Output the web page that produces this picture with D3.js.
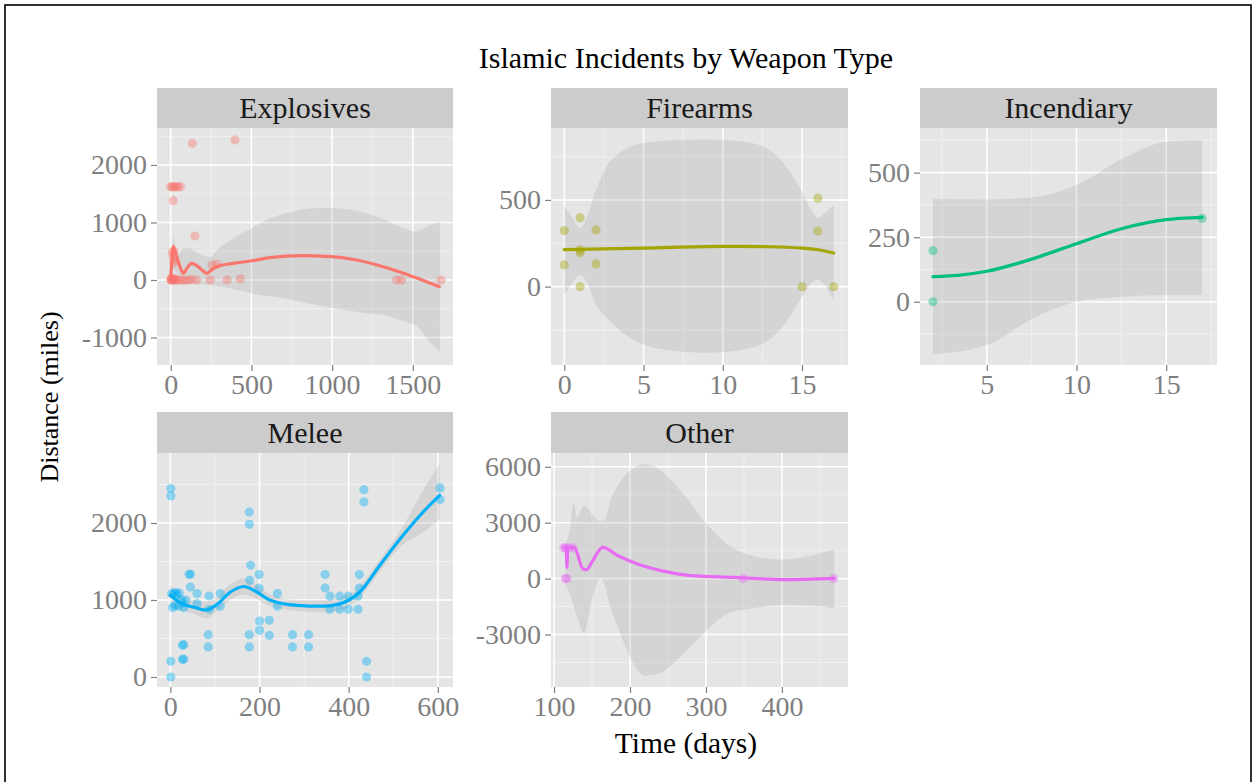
<!DOCTYPE html>
<html>
<head>
<meta charset="utf-8">
<script src="https://cdn.jsdelivr.net/npm/d3@7"></script>
<style>
  html, body { margin: 0; padding: 0; background: #ffffff; }
  svg { display: block; }
</style>
</head>
<body>
<div id="chart"></div>
<script>
// ---------------- DATA ----------------
const categories = ["Explosives", "Firearms", "Incendiary", "Melee", "Other"];
const seriesColors = ["#F8766D", "#A3A500", "#00BF7D", "#00B0F6", "#E76BF3"];

// Explosives
const explosivesX = [0, 2, 5, 8, 10, 15, 20, 25, 30, 40, 55, 70, 90, 110, 130, 160, 245, 349, 431,
  0, 10, 20, 30, 45, 60, 16, 134, 398, 150, 10, 15, 20, 25, 18, 256, 285, 1400, 1430, 1675];
const explosivesY = [0, 20, 0, 30, 0, 10, 0, 20, 0, 0, 0, 0, 0, 0, 10, 0, 0, 0, 20,
  1620, 1620, 1620, 1620, 1620, 1620, 1380, 2377, 2435, 765, 480, 400, 500, 350, 300, 260, 270, 0, 0, 0];
const explosivesFitX = [0, 8, 16, 25, 37, 55, 78, 100, 130, 150, 171, 200, 223, 250, 285, 388, 491, 615, 801, 997, 1152, 1317, 1503, 1664];
const explosivesFit = [57, 350, 580, 500, 405, 250, 116, 200, 290, 270, 231, 160, 116, 170, 231, 290, 330, 388, 423, 405, 348, 231, 58, -116];
const explosivesBandX = [0, 10, 16, 27, 50, 78, 110, 140, 180, 243, 300, 388, 500, 595, 700, 801, 900, 966, 1100, 1214, 1320, 1420, 1523, 1600, 1668];
const explosivesHi = [300, 600, 753, 600, 450, 551, 560, 522, 450, 400, 550, 725, 900, 1043, 1150, 1217, 1250, 1258, 1230, 1160, 1050, 927, 840, 950, 1014];
const explosivesLo = [-100, 100, 200, 150, 60, -87, -70, -60, -80, -87, -110, -157, -230, -280, -319, -380, -430, -464, -530, -580, -609, -700, -800, -1072, -1247];

// Firearms
const firearmsX = [0, 0, 1, 1, 1, 1, 2, 2, 15, 16, 16, 17];
const firearmsY = [323, 125, 398, 212, 196, 0, 327, 131, 0, 510, 321, 0];
const firearmsFitX = [0, 5, 10, 13, 15, 16, 17];
const firearmsFit = [213, 222, 232, 230, 222, 213, 194];
const firearmsBandX = [0, 0.5, 1, 1.5, 1.9, 2.9, 5, 7, 9, 11.8, 13.9, 15.1, 15.6, 16, 16.5, 17];
const firearmsHi = [464, 400, 338, 420, 530, 723, 829, 845, 848, 829, 704, 530, 440, 396, 430, 473];
const firearmsLo = [-46, 20, 69, 10, -84, -200, -334, -370, -382, -354, -219, -46, 20, 40, 0, -75];

// Incendiary
const incendiaryX = [2, 2, 17];
const incendiaryY = [198, 0, 323];
const incendiaryFitX = [2, 3.5, 5, 7.5, 10, 12.5, 15, 16, 17];
const incendiaryFit = [97, 103, 118, 165, 225, 283, 318, 324, 327];
const incendiaryBandX = [2, 5, 7.6, 10, 12.6, 15, 17];
const incendiaryHi = [398, 396, 405, 452, 556, 620, 627];
const incendiaryLo = [-204, -168, -64, 0, 19, 26, 26];

// Melee
const meleeX = [1, 1, 1, 1, 3, 8, 12, 15, 20, 25, 5, 10, 18, 28, 35, 30,
  42, 45, 45, 60, 60, 27, 27, 30, 30, 87, 87, 85, 85, 112, 112,
  177, 177, 180, 178, 177, 177, 199, 199, 200, 200, 222, 222, 240, 240,
  274, 274, 310, 310, 347, 347, 358, 380, 399, 421, 358, 380, 399, 421,
  424, 424, 434, 434, 440, 440, 605, 605];
const meleeY = [2447, 2351, 204, 0, 1083, 1083, 1100, 1060, 1090, 1000, 900, 930, 920, 960, 1000, 900,
  1334, 1334, 1169, 1083, 953, 412, 230, 420, 230, 1052, 880, 550, 390, 1083, 918,
  2143, 1983, 1451, 1256, 550, 390, 1330, 1156, 727, 606, 736, 541, 1083, 918,
  550, 390, 550, 390, 1330, 1156, 1050, 1050, 1050, 1050, 880, 880, 880, 880,
  1330, 1156, 2433, 2273, 204, 0, 2455, 2304];
const meleeFitX = [0, 23, 53, 80, 104, 134, 165, 194, 224, 283, 343, 380, 425, 470, 522, 567, 604];
const meleeFit = [1060, 960, 905, 870, 940, 1100, 1175, 1104, 996, 931, 920, 950, 1104, 1451, 1840, 2143, 2360];
const meleeHi = [1200, 1060, 1000, 980, 1030, 1200, 1280, 1200, 1070, 1000, 1000, 1030, 1180, 1530, 1960, 2430, 2770];
const meleeLo = [920, 870, 820, 760, 850, 1000, 1070, 1010, 920, 860, 840, 870, 1030, 1370, 1720, 1880, 2050];

// Other
const otherX = [113, 115, 120, 125, 115, 117, 349, 468];
const otherY = [1650, 1650, 1650, 1650, 0, 0, 0, 0];
const otherFitX = [113, 116, 117, 118, 125, 128, 138, 143, 150, 164, 184, 210, 241, 280, 338, 403, 469];
const otherFit = [1680, 1680, 600, 1680, 1680, 1600, 520, 480, 900, 1680, 1234, 784, 429, 161, 70, -54, 16];
const otherBandX = [115, 120, 126, 130, 140, 149, 161, 166, 175, 184, 197, 219, 237, 272, 303, 330, 360, 403, 447, 469];
const otherHi = [1800, 2500, 4095, 3300, 3917, 3500, 3100, 3112, 4300, 4991, 5700, 6150, 5900, 4454, 2844, 1771, 1234, 1020, 1320, 1589];
const otherLo = [-300, -735, -1500, -2000, -2950, -1272, 0, -300, -1631, -2600, -3955, -5206, -5120, -3955, -2705, -1850, -1600, -1400, -1450, -1631];

// Tick labels
const explosivesXTicks = [0, 500, 1000, 1500];
const explosivesYTicks = [-1000, 0, 1000, 2000];
const firearmsXTicks = [0, 5, 10, 15];
const firearmsYTicks = [0, 500];
const incendiaryXTicks = [5, 10, 15];
const incendiaryYTicks = [0, 250, 500];
const meleeXTicks = [0, 200, 400, 600];
const meleeYTicks = [0, 1000, 2000];
const otherXTicks = [100, 200, 300, 400];
const otherYTicks = [-3000, 0, 3000, 6000];

const titleText = "Islamic Incidents by Weapon Type";
const xTitle = "Time (days)";
const yTitle = "Distance (miles)";

// ---------------- LAYOUT ----------------
const W = 1257, H = 782;
const FONT = "'Liberation Serif', 'Times New Roman', Times, serif";
const panels = [
  { name: "Explosives", x: 157, y: 128, w: 296, h: 237, strip: 40, xd: [-85, 1749], yd: [-1478, 2643],
    px: explosivesX, py: explosivesY, fx: explosivesFitX, fy: explosivesFit, bx: explosivesBandX, hi: explosivesHi, lo: explosivesLo,
    xt: explosivesXTicks, yt: explosivesYTicks },
  { name: "Firearms", x: 551, y: 128, w: 297, h: 237, strip: 40, xd: [-0.84, 17.9], yd: [-452, 915],
    px: firearmsX, py: firearmsY, fx: firearmsFitX, fy: firearmsFit, bx: firearmsBandX, hi: firearmsHi, lo: firearmsLo,
    xt: firearmsXTicks, yt: firearmsYTicks },
  { name: "Incendiary", x: 920, y: 128, w: 297, h: 237, strip: 40, xd: [1.28, 17.83], yd: [-245, 673],
    px: incendiaryX, py: incendiaryY, fx: incendiaryFitX, fy: incendiaryFit, bx: incendiaryBandX, hi: incendiaryHi, lo: incendiaryLo,
    xt: incendiaryXTicks, yt: incendiaryYTicks },
  { name: "Melee", x: 157, y: 453, w: 296, h: 234, strip: 41, xd: [-30, 634], yd: [-130, 2909],
    px: meleeX, py: meleeY, fx: meleeFitX, fy: meleeFit, bx: meleeFitX, hi: meleeHi, lo: meleeLo,
    xt: meleeXTicks, yt: meleeYTicks },
  { name: "Other", x: 551, y: 453, w: 297, h: 234, strip: 41, xd: [96, 487], yd: [-5815, 6740],
    px: otherX, py: otherY, fx: otherFitX, fy: otherFit, bx: otherBandX, hi: otherHi, lo: otherLo,
    xt: otherXTicks, yt: otherYTicks }
];

const svg = d3.select("#chart").append("svg")
  .attr("width", W).attr("height", H)
  .style("font-family", FONT);

svg.append("rect").attr("x", 0).attr("y", 0).attr("width", W).attr("height", H).attr("fill", "#ffffff");
svg.append("rect").attr("x", 5).attr("y", 5).attr("width", 1246).attr("height", 820)
  .attr("fill", "none").attr("stroke", "#000").attr("stroke-width", 1.6);

function addText(g, x, y, txt, opts) {
  return g.append("text")
    .attr("transform", `translate(${x},${y})` + (opts.rotate ? ` rotate(${opts.rotate})` : ""))
    .attr("text-anchor", opts.anchor || "middle")
    .attr("font-size", opts.size || 29)
    .attr("font-family", FONT)
    .attr("fill", opts.fill || "#000")
    .text(txt);
}

function minorTicks(ticks, domain) {
  const step = ticks.length > 1 ? ticks[1] - ticks[0] : 500;
  const out = [];
  for (let v = ticks[0] - step / 2; v <= domain[1]; v += step) {
    if (v >= domain[0]) out.push(v);
  }
  return out;
}

panels.forEach((p, i) => {
  const color = seriesColors[i];
  const g = svg.append("g");
  const x = d3.scaleLinear().domain(p.xd).range([p.x, p.x + p.w]);
  const y = d3.scaleLinear().domain(p.yd).range([p.y + p.h, p.y]);

  // strip
  g.append("rect").attr("x", p.x).attr("y", p.y - p.strip).attr("width", p.w).attr("height", p.strip).attr("fill", "#CCCCCC");
  addText(g, p.x + p.w / 2, p.y - p.strip / 2 + 10, p.name, { size: 30, fill: "#1a1a1a" });

  // panel background
  g.append("rect").attr("x", p.x).attr("y", p.y).attr("width", p.w).attr("height", p.h).attr("fill", "#E5E5E5");

  const clipId = "clip" + i;
  svg.append("clipPath").attr("id", clipId).append("rect")
    .attr("x", p.x).attr("y", p.y).attr("width", p.w).attr("height", p.h);
  const pg = g.append("g").attr("clip-path", `url(#${clipId})`);

  // minor grid
  minorTicks(p.xt, p.xd).forEach(v => pg.append("line")
    .attr("x1", x(v)).attr("x2", x(v)).attr("y1", p.y).attr("y2", p.y + p.h)
    .attr("stroke", "#F2F2F2").attr("stroke-width", 0.8));
  minorTicks(p.yt, p.yd).forEach(v => pg.append("line")
    .attr("y1", y(v)).attr("y2", y(v)).attr("x1", p.x).attr("x2", p.x + p.w)
    .attr("stroke", "#F2F2F2").attr("stroke-width", 0.8));
  // major grid
  p.xt.forEach(v => pg.append("line")
    .attr("x1", x(v)).attr("x2", x(v)).attr("y1", p.y).attr("y2", p.y + p.h)
    .attr("stroke", "#FFFFFF").attr("stroke-width", 1.6));
  p.yt.forEach(v => pg.append("line")
    .attr("y1", y(v)).attr("y2", y(v)).attr("x1", p.x).attr("x2", p.x + p.w)
    .attr("stroke", "#FFFFFF").attr("stroke-width", 1.6));

  // confidence band
  const band = p.bx.map((bx, k) => ({ x: bx, lo: p.lo[k], hi: p.hi[k] }));
  pg.append("path").datum(band)
    .attr("d", d3.area().x(d => x(d.x)).y0(d => y(d.lo)).y1(d => y(d.hi)).curve(d3.curveMonotoneX))
    .attr("fill", "#999999").attr("fill-opacity", 0.22);

  // points
  const pts = p.px.map((px, k) => ({ x: px, y: p.py[k] }));
  pg.selectAll("circle.pt").data(pts).enter().append("circle")
    .attr("cx", d => x(d.x)).attr("cy", d => y(d.y)).attr("r", 4.6)
    .attr("fill", color).attr("fill-opacity", 0.4);

  // fitted line
  const fit = p.fx.map((fx, k) => ({ x: fx, y: p.fy[k] }));
  pg.append("path").datum(fit)
    .attr("d", d3.line().x(d => x(d.x)).y(d => y(d.y)).curve(d3.curveMonotoneX))
    .attr("fill", "none").attr("stroke", color).attr("stroke-width", 3.2)
    .attr("stroke-linejoin", "round").attr("stroke-linecap", "round");

  // axes
  const fmt = d => String(d);
  const ax = g.append("g").attr("transform", `translate(0,${p.y + p.h})`)
    .call(d3.axisBottom(x).tickValues(p.xt).tickSizeInner(6).tickSizeOuter(0).tickPadding(3).tickFormat(fmt));
  const ay = g.append("g").attr("transform", `translate(${p.x},0)`)
    .call(d3.axisLeft(y).tickValues(p.yt).tickSizeInner(6).tickSizeOuter(0).tickPadding(4).tickFormat(fmt));
  [ax, ay].forEach(a => {
    a.select(".domain").remove();
    a.selectAll(".tick line").attr("stroke", "#7F7F7F").attr("stroke-width", 1.2);
    a.selectAll(".tick text").attr("fill", "#7F7F7F").attr("font-size", 28).attr("font-family", FONT);
  });
});

// titles
addText(svg, 686, 68, titleText, { size: 30 });
addText(svg, 686, 753, xTitle, { size: 29.5 });
addText(svg, 58, 397, yTitle, { size: 26, rotate: -90 });
</script>
</body>
</html>
